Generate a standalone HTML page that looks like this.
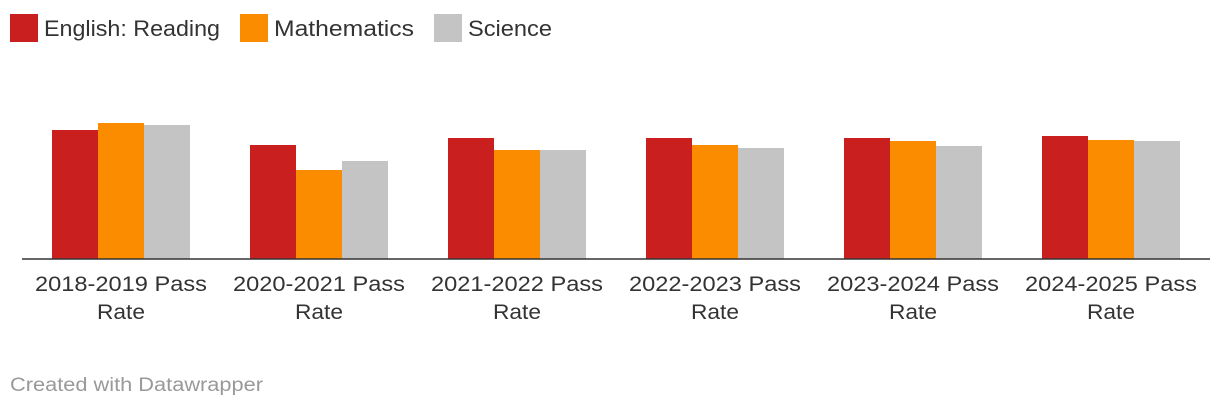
<!DOCTYPE html>
<html><head><meta charset="utf-8"><style>
body{margin:0;background:#fff;font-family:"Liberation Sans",sans-serif;}
svg{display:block}
</style></head><body>
<svg width="1220" height="408" id="c">
<g>
<rect x="10" y="14" width="28" height="28" fill="#c91f1f"/>
<text x="44" y="36" font-size="22" fill="#333" textLength="176" lengthAdjust="spacingAndGlyphs">English: Reading</text>
<rect x="240" y="14" width="28" height="28" fill="#fb8c00"/>
<text x="274" y="36" font-size="22" fill="#333" textLength="140" lengthAdjust="spacingAndGlyphs">Mathematics</text>
<rect x="434" y="14" width="28" height="28" fill="#c4c4c4"/>
<text x="468" y="36" font-size="22" fill="#333" textLength="84" lengthAdjust="spacingAndGlyphs">Science</text>
</g>
<g id="bars"></g>
<line x1="22" x2="1210" y1="259" y2="259" stroke="#333" stroke-width="1.5"/>
<g id="labels"></g>
<text x="10" y="391" font-size="19" fill="#999" textLength="253" lengthAdjust="spacingAndGlyphs">Created with Datawrapper</text>
</svg>
<script>
const categories=["2018-2019","2020-2021","2021-2022","2022-2023","2023-2024","2024-2025"];
const english=[64.5,57,60.5,60.5,60.5,61.5];
const math=[68,44.5,54.5,57,59,59.5];
const science=[67,49,54.5,55.5,56.5,59];
const seriesNames=["english","math","science"];
const colors=["#c91f1f","#fb8c00","#c4c4c4"];
const NS="http://www.w3.org/2000/svg";
const x0=22,gw=198,bw=46,pad=30,base=259,k=2;
function xPos(i,s){return x0+i*gw+pad+s*bw;}
function yH(v){return v*k;}
const bars=document.getElementById('bars'),labels=document.getElementById('labels');
[english,math,science].forEach((arr,s)=>{arr.forEach((v,i)=>{
 const r=document.createElementNS(NS,'rect');
 r.setAttribute('x',xPos(i,s));r.setAttribute('width',bw);
 r.setAttribute('y',base-yH(v));r.setAttribute('height',yH(v));r.setAttribute('fill',colors[s]);
 
 
 bars.appendChild(r);});});
categories.forEach((c,i)=>{
 const cx=x0+i*gw+gw/2;
 [[c+" Pass",291,172],["Rate",319,48]].forEach(([t,y,w])=>{
  const tx=document.createElementNS(NS,'text');
  tx.setAttribute('x',cx);tx.setAttribute('y',y);tx.setAttribute('text-anchor','middle');
  tx.setAttribute('font-size','21');tx.setAttribute('fill','#333');
  tx.setAttribute('textLength',w);tx.setAttribute('lengthAdjust','spacingAndGlyphs');
  tx.textContent=t;
  
  
  labels.appendChild(tx);});
});
</script>
</body></html>
